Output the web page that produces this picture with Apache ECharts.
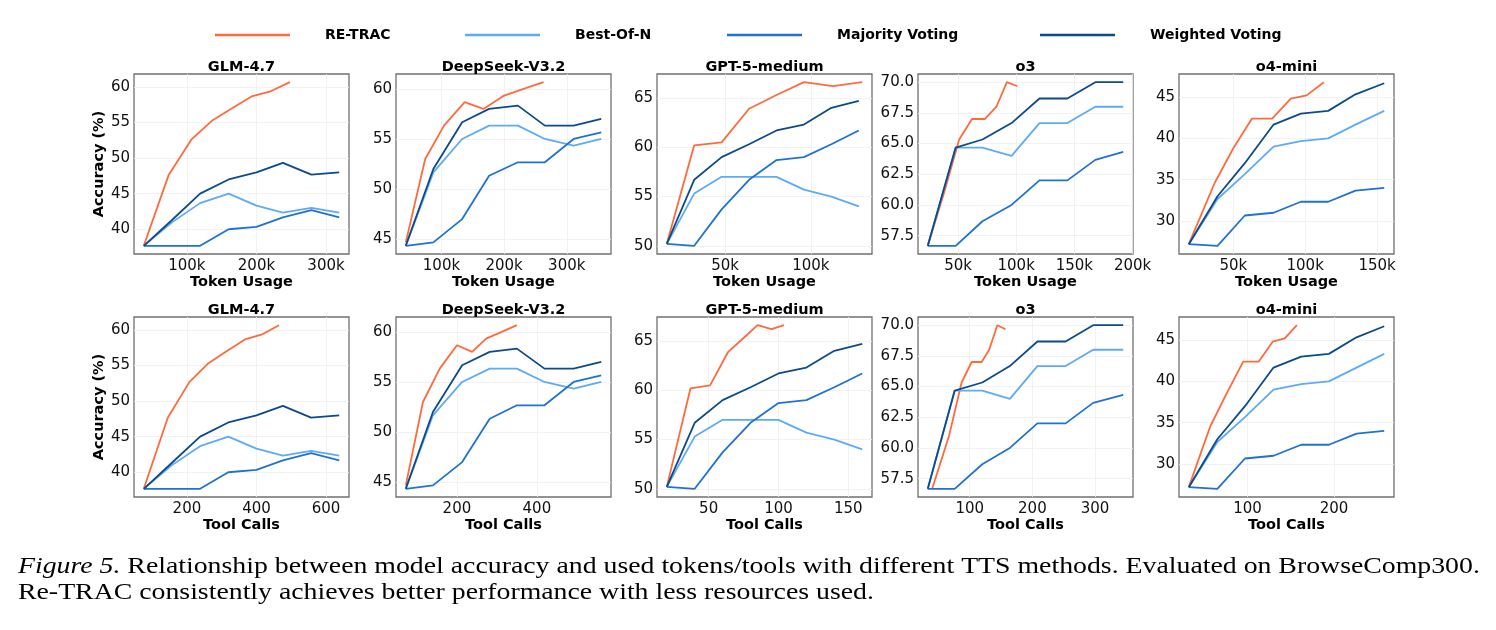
<!DOCTYPE html>
<html>
<head>
<meta charset="utf-8">
<script src="https://cdn.jsdelivr.net/npm/echarts@6/dist/echarts.min.js"></script>
<style>
html, body { margin: 0; padding: 0; background: #fff; }
#chart { width: 1496px; height: 630px; }
</style>
</head>
<body>
<div id="chart"></div>
<script>
// legend / series names
const methods = ['RE-TRAC', 'Best-Of-N', 'Majority Voting', 'Weighted Voting'];
const models = ['GLM-4.7', 'DeepSeek-V3.2', 'GPT-5-medium', 'o3', 'o4-mini'];

// GLM-4.7 (token usage in k, tool calls)
const glmReTok = [38, 74, 107, 137, 165, 193, 219, 248];
const glmReTool = [76, 145, 207, 262, 314, 367, 414, 465];
const glmBaseTok = [38, 79, 119, 160, 200, 238, 279, 319];
const glmBaseTool = [76, 157, 238, 319, 400, 476, 557, 638];
const glmRe = [37.67, 47.67, 52.67, 55.33, 57, 58.67, 59.33, 60.67];
const glmBon = [37.67, 41, 43.67, 45, 43.33, 42.33, 43, 42.33];
const glmMaj = [37.67, 37.67, 37.67, 40, 40.33, 41.67, 42.67, 41.67];
const glmWv = [37.67, 41.33, 45, 47, 48, 49.33, 47.67, 48];

// DeepSeek-V3.2
const dsReTok = [43, 74, 104, 137, 167, 200, 231, 263];
const dsReTool = [72, 115, 157, 200, 238, 273, 312, 350];
const dsBaseTok = [43, 87, 133, 176, 222, 265, 311, 355];
const dsBaseTool = [72, 140, 213, 282, 350, 419, 492, 561];
const dsRe = [44.67, 53, 56.33, 58.67, 58, 59.33, 60, 60.67];
const dsBon = [44.33, 51.67, 55, 56.33, 56.33, 55, 54.33, 55];
const dsMaj = [44.33, 44.67, 47, 51.33, 52.67, 52.67, 55, 55.67];
const dsWv = [44.33, 52, 56.67, 58, 58.33, 56.33, 56.33, 57];

// GPT-5-medium
const gptReTok = [16, 32, 48, 64, 80, 96, 113, 130];
const gptReTool = [20, 37, 51, 64, 75, 85, 95, 104];
const gptBaseTok = [16, 32, 48, 64, 80, 96, 112, 128];
const gptBaseTool = [20, 40, 60, 80, 100, 120, 140, 160];
const gptRe = [50.2, 60.2, 60.5, 63.9, 65.3, 66.6, 66.2, 66.6];
const gptBon = [50.2, 55.3, 57, 57, 57, 55.7, 55, 54];
const gptMaj = [50.2, 50, 53.7, 56.7, 58.7, 59, 60.3, 61.7];
const gptWv = [50.2, 56.7, 59, 60.3, 61.7, 62.3, 64, 64.7];

// o3
const o3ReTok = [24, 38, 51, 62, 73, 83, 92, 101];
const o3ReTool = [40, 67, 87, 103, 119, 131, 144, 157];
const o3BaseTok = [24, 48, 71, 96, 120, 144, 168, 192];
const o3BaseTool = [33, 76, 120, 164, 208, 253, 297, 345];
const o3Re = [56.67, 61, 65.33, 67, 67, 68, 70, 69.67];
const o3Bon = [56.67, 64.67, 64.67, 64, 66.67, 66.67, 68, 68];
const o3Maj = [56.67, 56.67, 58.67, 60, 62, 62, 63.67, 64.33];
const o3Wv = [56.67, 64.67, 65.33, 66.67, 68.67, 68.67, 70, 70];

// o4-mini
const o4ReTok = [19, 37, 50, 63, 77, 90, 101, 113];
const o4ReTool = [32, 57, 77, 95, 113, 129, 143, 157];
const o4BaseTok = [19, 39, 58, 78, 97, 116, 135, 155];
const o4BaseTool = [32, 65, 97, 130, 162, 194, 226, 258];
const o4Re = [27.2, 34.6, 38.8, 42.4, 42.4, 44.8, 45.2, 46.8];
const o4Bon = [27.2, 32.67, 35.67, 39, 39.67, 40, 41.67, 43.33];
const o4Maj = [27.2, 27, 30.67, 31, 32.33, 32.33, 33.67, 34];
const o4Wv = [27.2, 33, 37, 41.67, 43, 43.33, 45.33, 46.67];

// tick labels
const tokTicks = [[100, 200, 300], [100, 200, 300], [50, 100], [50, 100, 150, 200], [50, 100, 150]];
const toolTicks = [[200, 400, 600], [200, 400], [50, 100, 150], [100, 200, 300], [100, 200]];
const yTicks = [[40, 45, 50, 55, 60], [45, 50, 55, 60], [50, 55, 60, 65], [57.5, 60, 62.5, 65, 67.5, 70], [30, 35, 40, 45]];

const panels = [
  { reTok: glmReTok, reTool: glmReTool, baseTok: glmBaseTok, baseTool: glmBaseTool, ys: [glmRe, glmBon, glmMaj, glmWv] },
  { reTok: dsReTok, reTool: dsReTool, baseTok: dsBaseTok, baseTool: dsBaseTool, ys: [dsRe, dsBon, dsMaj, dsWv] },
  { reTok: gptReTok, reTool: gptReTool, baseTok: gptBaseTok, baseTool: gptBaseTool, ys: [gptRe, gptBon, gptMaj, gptWv] },
  { reTok: o3ReTok, reTool: o3ReTool, baseTok: o3BaseTok, baseTool: o3BaseTool, ys: [o3Re, o3Bon, o3Maj, o3Wv] },
  { reTok: o4ReTok, reTool: o4ReTool, baseTok: o4BaseTok, baseTool: o4BaseTool, ys: [o4Re, o4Bon, o4Maj, o4Wv] },
];

const colors = ['#ff6a3d', '#5eaaf6', '#1f72d2', '#0d4a8a'];
const font = '"DejaVu Sans", sans-serif';
const cols = [134, 396, 657, 918, 1179];
const rows = [74, 317];
const W = 215, H = 180;

// matplotlib style 5% margins
function padRange(arrs) {
  const all = [].concat(...arrs);
  const lo = Math.min(...all), hi = Math.max(...all);
  const p = (hi - lo) * 0.05;
  return [lo - p, hi + p];
}

const grids = [], xAxes = [], yAxes = [], series = [], graphics = [];

rows.forEach((top, r) => {
  panels.forEach((p, c) => {
    const g = grids.length;
    const xsRe = r === 0 ? p.reTok : p.reTool;
    const xsBase = r === 0 ? p.baseTok : p.baseTool;
    const xr = padRange([xsRe, xsBase]);
    const yr = padRange(p.ys);
    const xt = r === 0 ? tokTicks[c] : toolTicks[c];
    const yt = yTicks[c];

    grids.push({
      left: cols[c], top: top, width: W, height: H,
      show: true, borderColor: '#707070', borderWidth: 1.3,
      outerBoundsMode: 'none'
    });
    xAxes.push({
      type: 'value', gridIndex: g, min: xr[0], max: xr[1],
      axisLine: { show: false },
      axisTick: { show: false, customValues: xt },
      axisLabel: {
        customValues: xt, fontSize: 15, fontFamily: font, color: '#111', margin: 5,
        formatter: v => r === 0 ? v + 'k' : String(v)
      },
      splitLine: { show: true, lineStyle: { color: '#efefef', width: 0.8 } },
      name: r === 0 ? 'Token Usage' : 'Tool Calls',
      nameLocation: 'middle', nameGap: 19,
      nameTextStyle: { fontWeight: 'bold', fontSize: 14.5, fontFamily: font, color: '#000' }
    });
    yAxes.push({
      type: 'value', gridIndex: g, min: yr[0], max: yr[1],
      axisLine: { show: false },
      axisTick: { show: false, customValues: yt },
      axisLabel: {
        customValues: yt, fontSize: 15, fontFamily: font, color: '#111', margin: 4,
        formatter: v => c === 3 ? v.toFixed(1) : String(v)
      },
      splitLine: { show: true, lineStyle: { color: '#efefef', width: 0.8 } },
      name: c === 0 ? 'Accuracy (%)' : '',
      nameLocation: 'middle', nameGap: 23,
      nameTextStyle: { fontWeight: 'bold', fontSize: 14.5, fontFamily: font, color: '#000' }
    });
    methods.forEach((m, i) => {
      const xs = i === 0 ? xsRe : xsBase;
      series.push({
        name: m, type: 'line', xAxisIndex: g, yAxisIndex: g,
        data: xs.map((x, k) => [x, p.ys[i][k]]),
        showSymbol: false, symbol: 'none',
        lineStyle: { width: 1.8, color: colors[i] },
        itemStyle: { color: colors[i] }
      });
    });
    graphics.push({
      type: 'text', silent: true,
      style: {
        x: cols[c] + W / 2, y: top - 7, text: models[c],
        align: 'center', textAlign: 'center', verticalAlign: 'middle', textVerticalAlign: 'middle',
        fontSize: 14.5, fontWeight: 'bold', fontFamily: font, fill: '#000'
      }
    });
  });
});

// caption (stretched a little to the reference's width)
const capFont = 'Liberation Serif';
const capScale = 1.158;
graphics.push({
  type: 'text', silent: true, x: 18, y: 567, scaleX: capScale,
  style: {
    x: 0, y: 0, verticalAlign: 'middle', textVerticalAlign: 'middle',
    text: '{i|Figure 5.} Relationship between model accuracy and used tokens/tools with different TTS methods. Evaluated on BrowseComp300.',
    fontSize: 24, fontFamily: capFont, fill: '#000',
    rich: { i: { fontStyle: 'italic', fontSize: 24, fontFamily: capFont, color: '#000' } }
  }
});
graphics.push({
  type: 'text', silent: true, x: 18, y: 593, scaleX: capScale,
  style: {
    x: 0, y: 0, verticalAlign: 'middle', textVerticalAlign: 'middle',
    text: 'Re-TRAC consistently achieves better performance with less resources used.',
    fontSize: 24, fontFamily: capFont, fill: '#000'
  }
});

const legendX = [210, 460, 722, 1035];
const legends = methods.map((m, i) => ({
  data: [m], left: legendX[i], top: 23, icon: 'rect',
  itemWidth: 75, itemHeight: 2.5, selectedMode: false,
  textStyle: { fontWeight: 'bold', fontSize: 14, fontFamily: font, color: '#000', padding: [0, 0, 0, 30] }
}));

const chart = echarts.init(document.getElementById('chart'));
chart.setOption({
  animation: false,
  backgroundColor: '#fff',
  color: colors,
  legend: legends,
  grid: grids,
  xAxis: xAxes,
  yAxis: yAxes,
  series: series,
  graphic: graphics
});
</script>
</body>
</html>
